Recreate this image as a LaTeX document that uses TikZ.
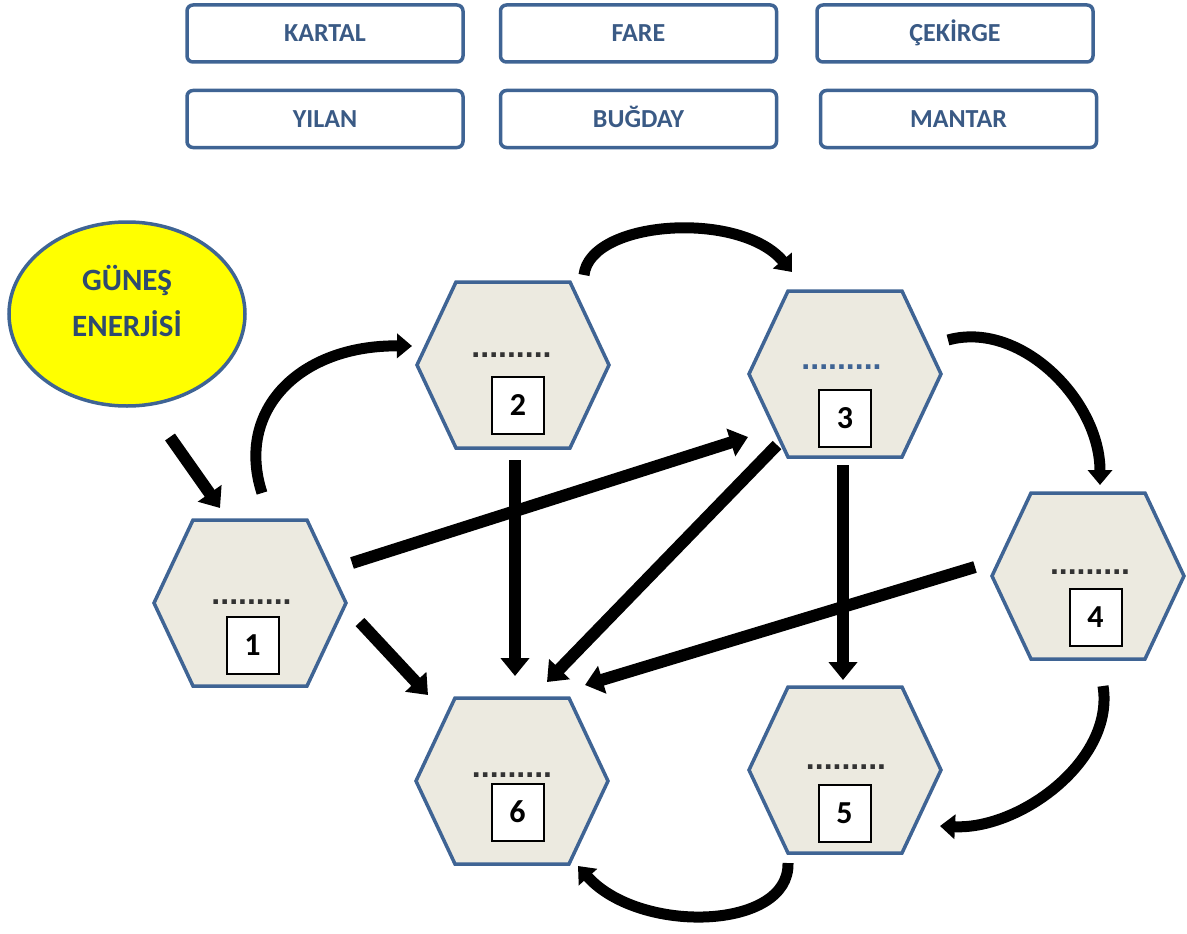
\documentclass[tikz,border=0pt]{standalone}
\usepackage{fontspec}
\setmainfont{Carlito}
\newfontfamily\dotfont{Liberation Sans}
\usetikzlibrary{arrows.meta,calc,shapes.geometric}

\definecolor{frameblue}{HTML}{3F6494}
\definecolor{labelblue}{HTML}{3A5A85}
\definecolor{sunblue}{HTML}{2E4A70}
\definecolor{cellfill}{HTML}{ECEAE0}
\definecolor{dotgray}{HTML}{333333}
\definecolor{sunyellow}{HTML}{FFFF00}

\tikzset{
  animal/.style={draw=frameblue, line width=3.5pt, rounded corners=6pt, fill=white,
    minimum width=276pt, minimum height=57pt, inner sep=0pt,
    text height=17pt, text depth=0pt,
    font=\fontsize{26}{28}\selectfont\bfseries, text=labelblue},
  sun/.style={ellipse, draw=frameblue, fill=sunyellow, line width=3.5pt,
    minimum width=236pt, minimum height=184pt, inner sep=0pt},
  sunlabel/.style={align=center, text=sunblue, inner sep=0pt,
    font=\fontsize{31}{46}\selectfont\bfseries},
  cell/.style={minimum width=192pt, minimum height=166pt, inner sep=0pt},
  cellframe/.style={draw=frameblue, fill=cellfill, line width=3.5pt, line join=miter},
  dotrow/.style={anchor=base, inner sep=0pt, font=\dotfont\bfseries\fontsize{32}{32}\selectfont},
  numbox/.style={draw=black, line width=2pt, fill=white, minimum width=52pt,
    minimum height=57pt, inner sep=0pt, font=\fontsize{32}{32}\selectfont\bfseries},
  flow/.style={line width=12pt, -{Triangle[length=18pt,width=28pt]}},
  loop/.style={line width=11pt, -{Triangle[length=15pt,width=24pt]}},
}

% hexagonal cell: name, centre, dot offset, box offset, number, dot colour
\newcommand\hexcell[6]{%
  \node[cell] (#1) at (#2) {};
  \filldraw[cellframe] ($(#1)+(-96,0)$) -- ($(#1)+(-57,-83)$) -- ($(#1)+(57,-83)$)
    -- ($(#1)+(96,0)$) -- ($(#1)+(57,83)$) -- ($(#1)+(-57,83)$) -- cycle;
  \node[dotrow, text=#6] (#1-dots) at ($(#1)+(#3)$) {.........};
  \node[numbox] (#1-num) at ($(#1)+(#4)$) {#5};
}

\begin{document}
\begin{tikzpicture}[x=1pt, y=-1pt]
\useasboundingbox (0,0) rectangle (1187,934);

% organism labels
\node[animal] (kartal)  at (325,33.5)   {KARTAL};
\node[animal] (fare)    at (638.5,33.5) {FARE};
\node[animal] (cekirge) at (955,33.5)   {ÇEKİRGE};
\node[animal] (yilan)   at (325,119)    {YILAN};
\node[animal] (bugday)  at (638.5,119)  {BUĞDAY};
\node[animal] (mantar)  at (958.5,119)  {MANTAR};

% energy source
\node[sun] (sun) at (127,314) {};
\node[sunlabel] (sunText) at ($(sun)+(0,-13)$) {GÜNEŞ\\ENERJİSİ};

% food web cells
\hexcell{h1}{250,603}{1.5,1}{2.5,42}{1}{dotgray}
\hexcell{h2}{513,365}{-1.5,-8}{5,40}{2}{dotgray}
\hexcell{h3}{845,374}{-3.5,-5}{0,44.5}{3}{frameblue}
\hexcell{h4}{1088,576}{2,-1.5}{7.5,41.5}{4}{dotgray}
\hexcell{h5}{845,770}{1,-0.5}{-0.5,43}{5}{dotgray}
\hexcell{h6}{512,781}{0,-3.5}{5.5,31}{6}{dotgray}

% straight arrows
\draw[flow] ($(sun)+(43,123)$) -- ($(h1)+(-30,-95)$);
\draw[flow] ($(h2)+(2,95)$) -- ($(h6)+(3,-105)$);
\draw[flow] ($(h1)+(102,-40)$) -- ($(h3)+(-97,63)$);
\draw[flow] ($(h1)+(110,19)$) -- ($(h6)+(-84,-86)$);
\draw[flow] ($(h3)+(-68,71)$) -- ($(h6)+(35,-99)$);
\draw[flow] ($(h3)+(-2,91)$) -- ($(h5)+(-2,-90)$);
\draw[flow] ($(h4)+(-113,-9)$) -- ($(h6)+(73,-96)$);

% curved arrows around the web
\draw[loop] ($(h1)+(12,-110)$) .. controls ($(h1)+(-15,-193)$) and ($(h2)+(-213,-20)$) .. ($(h2)+(-101,-19)$);
\draw[loop] ($(h2)+(71,-90)$) .. controls ($(h2)+(77,-145)$) and ($(h3)+(-105,-164)$) .. ($(h3)+(-53,-102)$);
\draw[loop] ($(h3)+(103,-34)$) .. controls ($(h3)+(175,-54)$) and ($(h4)+(12,-176)$) .. ($(h4)+(12,-91)$);
\draw[loop] ($(h4)+(15,110)$) .. controls ($(h4)+(27,184)$) and ($(h5)+(175,60)$) .. ($(h5)+(95,56)$);
\draw[loop] ($(h5)+(-57,93)$) .. controls ($(h5)+(-55,160)$) and ($(h6)+(128,154)$) .. ($(h6)+(66,85)$);
\end{tikzpicture}
\end{document}
